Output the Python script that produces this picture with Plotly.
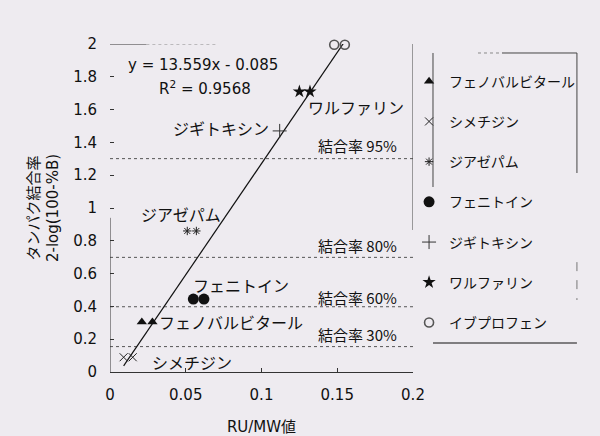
import numpy as np
import plotly.graph_objects as go

# ---------------- data ----------------
phenobarbital_x = [0.021, 0.028]
phenobarbital_y = [0.305, 0.305]
cimetidine_x = [0.009, 0.015]
cimetidine_y = [0.09, 0.09]
diazepam_x = [0.051, 0.057]
diazepam_y = [0.86, 0.86]
phenytoin_x = [0.055, 0.062]
phenytoin_y = [0.445, 0.445]
digitoxin_x = [0.112]
digitoxin_y = [1.47]
warfarin_x = [0.125, 0.132]
warfarin_y = [1.71, 1.71]
ibuprofen_x = [0.148, 0.155]
ibuprofen_y = [1.995, 1.995]

drug_names = ["フェノバルビタール", "シメチジン", "ジアゼパム", "フェニトイン",
              "ジギトキシン", "ワルファリン", "イブプロフェン"]

binding_pct = [95, 80, 60, 30]
slope = 13.559
intercept = -0.085
r_squared = 0.9568

x_range = [0, 0.2]
y_range = [0, 2]
x_ticks = [0, 0.05, 0.1, 0.15, 0.2]
y_ticks = [0, 0.2, 0.4, 0.6, 0.8, 1, 1.2, 1.4, 1.6, 1.8, 2]

JP = "Noto Sans CJK JP"
LAT = "DejaVu Sans, Noto Sans CJK JP"
INK = "#111111"
BG = "#EEEBF0"

fig = go.Figure()

# binding-rate reference lines: y = 2 - log10(100 - B)
for b in binding_pct:
    yv = 2 - np.log10(100 - b)
    fig.add_trace(go.Scatter(x=x_range, y=[yv, yv], mode="lines",
                             line=dict(color="#555555", width=1, dash="dot"),
                             showlegend=False, hoverinfo="skip"))

# regression line across the data range
all_x = (phenobarbital_x + cimetidine_x + diazepam_x + phenytoin_x
         + digitoxin_x + warfarin_x + ibuprofen_x)
tx = np.array([min(all_x), max(all_x)])
fig.add_trace(go.Scatter(x=tx, y=slope * tx + intercept, mode="lines",
                         line=dict(color="#111111", width=1.2),
                         showlegend=False, hoverinfo="skip"))

series = [
    (drug_names[0], phenobarbital_x, phenobarbital_y,
     dict(symbol="triangle-up", size=9, color=INK)),
    (drug_names[1], cimetidine_x, cimetidine_y,
     dict(symbol="x-thin-open", size=8, color="#222", line=dict(width=1, color="#222"))),
    (drug_names[2], diazepam_x, diazepam_y,
     dict(symbol="asterisk-open", size=7, color="#222", line=dict(width=1, color="#222"))),
    (drug_names[3], phenytoin_x, phenytoin_y,
     dict(symbol="circle", size=11, color=INK)),
    (drug_names[4], digitoxin_x, digitoxin_y,
     dict(symbol="cross-thin-open", size=10, color="#333", line=dict(width=1, color="#333"))),
    (drug_names[5], warfarin_x, warfarin_y,
     dict(symbol="star", size=10, color=INK)),
    (drug_names[6], ibuprofen_x, ibuprofen_y,
     dict(symbol="circle-open", size=9, color="#555", line=dict(width=1.6, color="#555"))),
]
for i, (name, xs, ys, mk) in enumerate(series):
    fig.add_trace(go.Scatter(x=xs, y=ys, mode="markers", name=name, marker=mk,
                             legendgroup="g%d" % i, cliponaxis=False))

# ---------------- annotations ----------------
def ann(text, x, y, size=16, xanchor="center", family=JP, xref="x", yref="y"):
    fig.add_annotation(x=x, y=y, xref=xref, yref=yref, text=text, showarrow=False,
                       xanchor=xanchor, yanchor="middle",
                       font=dict(family=family, size=size, color=INK))

ann("イブプロフェン", 0.1617, 2.079)
ann("ワルファリン", 0.1624, 1.616)
ann("ジギトキシン", 0.0733, 1.488)
ann("ジアゼパム", 0.0469, 0.963)
ann("フェニトイン", 0.0865, 0.530)
ann("フェノバルビタール", 0.031, 0.305, xanchor="left")
ann("シメチジン", 0.0264, 0.061, xanchor="left")
for b, yv in zip(binding_pct, [1.384, 0.774, 0.457, 0.226]):
    ann("結合率 %d%%" % b, 0.1905, yv, size=15, xanchor="right")
ann("y = %.3fx - %.3f" % (slope, -intercept), 0.0614, 1.872, size=15, family=LAT)
ann("R<sup>2</sup> = %.4f" % r_squared, 0.0627, 1.732, size=15, family=LAT)

# ---------------- faded frame pieces ----------------
shapes = [
    dict(type="line", xref="x", yref="y", x0=0, x1=0, y0=0, y1=0.94,
         line=dict(color="#333", width=1)),
    dict(type="line", xref="x", yref="y", x0=0, x1=0.024, y0=2, y1=2,
         line=dict(color="#333", width=1)),
    dict(type="line", xref="x", yref="y", x0=0.024, x1=0.07, y0=2, y1=2,
         line=dict(color="#888", width=1, dash="dot")),
    dict(type="line", xref="x", yref="y", x0=0.2, x1=0.2, y0=2, y1=0.866,
         line=dict(color="#444", width=1)),
    # legend box pieces
    dict(type="line", xref="paper", yref="paper", x0=1.066, x1=1.066, y0=0.9726, y1=0.564,
         line=dict(color="#444", width=1)),
    dict(type="line", xref="paper", yref="paper", x0=1.541, x1=1.541, y0=0.9726, y1=0.6067,
         line=dict(color="#444", width=1)),
    dict(type="line", xref="paper", yref="paper", x0=1.541, x1=1.541, y0=0.335, y1=0.2195,
         line=dict(color="#777", width=1, dash="dash")),
    dict(type="line", xref="paper", yref="paper", x0=1.2145, x1=1.2937, y0=0.9726, y1=0.9726,
         line=dict(color="#888", width=1, dash="dot")),
    dict(type="line", xref="paper", yref="paper", x0=1.2937, x1=1.541, y0=0.9726, y1=0.9726,
         line=dict(color="#444", width=1)),
    dict(type="line", xref="paper", yref="paper", x0=1.066, x1=1.541, y0=0.0884, y1=0.0884,
         line=dict(color="#111", width=1.2)),
]

fig.update_layout(
    width=600, height=436,
    margin=dict(l=110, r=187, t=44, b=64, autoexpand=False),
    paper_bgcolor=BG, plot_bgcolor=BG,
    shapes=shapes,
    showlegend=True,
    legend=dict(x=0.987, y=0.934, xanchor="left", yanchor="top",
                bgcolor="rgba(0,0,0,0)", borderwidth=0,
                font=dict(family=JP, size=14, color=INK),
                tracegroupgap=19, itemsizing="trace"),
    xaxis=dict(range=x_range, tickvals=x_ticks, ticktext=["0", "0.05", "0.1", "0.15", "0.2"],
               automargin=False,
               showgrid=False, zeroline=False, showline=True, linecolor="#333", linewidth=1,
               ticks="inside", ticklen=4, tickcolor="#333", ticklabelstandoff=9,
               tickfont=dict(family=LAT, size=15, color=INK),
               title=dict(text="RU/MW値", standoff=19,
                          font=dict(family=LAT, size=15, color=INK))),
    yaxis=dict(range=y_range, tickvals=y_ticks,
               ticktext=["0", "0.2", "0.4", "0.6", "0.8", "1", "1.2", "1.4", "1.6", "1.8", "2"],
               automargin=False,
               showgrid=False, zeroline=False, showline=False,
               ticks="inside", ticklen=4, tickcolor="#333", ticklabelstandoff=12,
               tickfont=dict(family=LAT, size=15, color=INK),
               title=dict(text="タンパク結合率<br>2-log(100-%B)", standoff=10,
                          font=dict(family=LAT, size=15, color=INK))),
)

fig.write_html("out.html", config={"displayModeBar": False},
               post_script="document.body.style.margin='0px';document.body.style.background='%s';" % BG)
